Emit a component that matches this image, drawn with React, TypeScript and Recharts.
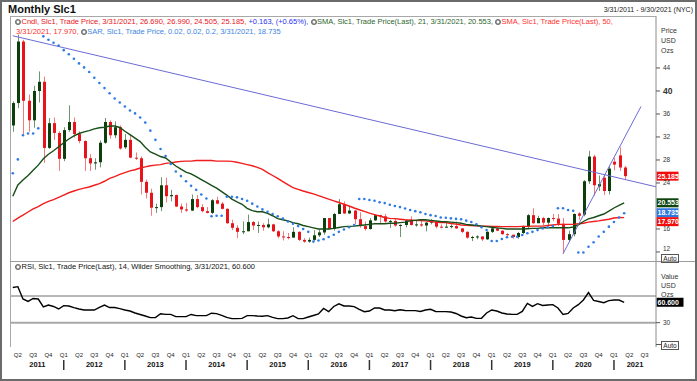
import React from 'react';
import { ComposedChart, Bar, Line, XAxis, YAxis, ReferenceLine } from 'recharts';

const FONT = 'Arial, "Liberation Sans", Helvetica, sans-serif';

// Monthly candles: index 0 = Mar 2011 ... index 120 = Mar 2021
const opens = [
  34.0, 37.9, 48.6, 38.3, 34.9, 40.0, 41.6, 30.1, 34.4, 32.7,
  28.2, 33.2, 34.6, 32.5, 31.3, 28.3, 27.4, 27.6, 31.0, 34.6, 32.3, 33.7,
  30.2, 31.5, 28.4, 28.3, 24.2, 22.3, 19.7, 19.8, 23.6, 21.7, 21.9, 19.9,
  19.4, 19.2, 21.2, 19.8, 19.1, 18.8, 21.0, 20.4, 19.5, 17.0, 16.2, 15.5,
  15.6, 17.2, 16.6, 16.7, 16.3, 16.8, 15.6, 14.7, 14.6, 14.5, 15.5, 14.1,
  13.8, 14.1, 14.9, 15.4, 17.9, 16.0, 18.6, 20.3, 18.7, 19.2, 17.7, 16.5,
  16.0, 17.5, 18.4, 18.2, 17.3, 17.4, 16.6, 16.7, 17.5, 16.7, 16.8, 16.6,
  17.1, 17.3, 16.4, 16.3, 16.4, 16.5, 16.1, 15.5, 14.5, 14.6, 14.7, 14.2,
  15.5, 16.1, 15.7, 15.1, 15.0, 14.6, 15.3, 16.4, 18.4, 17.0, 17.9, 17.1,
  17.9, 17.8, 16.9, 14.1, 15.1, 18.7, 18.5, 24.3, 28.6, 23.4, 24.9, 22.6,
  27.7, 28.8, 26.69,
];
const highs = [
  38.2, 49.8, 48.9, 39.4, 40.9, 43.4, 42.5, 35.3, 35.4, 33.0,
  33.7, 37.5, 35.4, 33.0, 31.4, 29.0, 28.3, 31.4, 35.3, 34.9, 34.7, 34.0,
  32.5, 32.4, 29.3, 28.6, 24.6, 23.0, 20.4, 25.0, 24.9, 22.8, 22.0, 20.4,
  20.5, 22.0, 21.9, 20.3, 19.8, 21.2, 21.6, 20.7, 19.6, 17.6, 16.7, 17.3,
  18.5, 17.4, 17.3, 17.0, 17.8, 16.9, 15.8, 15.6, 15.3, 16.3, 15.6, 14.4,
  14.5, 15.8, 15.9, 17.9, 17.9, 18.8, 21.2, 20.8, 20.0, 19.3, 18.9, 17.3,
  17.9, 18.5, 18.5, 18.6, 17.6, 17.9, 16.8, 17.7, 18.2, 17.4, 17.4, 17.2,
  17.7, 17.4, 16.8, 17.3, 16.8, 17.3, 16.1, 15.6, 14.8, 14.9, 14.7, 15.6,
  16.2, 16.2, 15.8, 15.3, 15.0, 15.5, 16.6, 18.6, 19.6, 18.3, 18.1, 18.0,
  18.6, 18.6, 17.9, 15.7, 18.7, 18.9, 24.5, 29.6, 28.9, 25.3, 25.4, 26.9,
  28.4, 30.2, 26.99,
];
const lows = [
  32.9, 37.0, 32.3, 32.9, 33.6, 38.0, 27.5, 29.9, 31.5, 26.1,
  27.8, 32.9, 31.9, 30.9, 26.1, 26.1, 26.3, 26.7, 30.8, 31.7, 31.8, 29.8,
  29.9, 28.3, 28.0, 22.0, 21.3, 18.3, 18.8, 19.1, 20.6, 20.8, 19.8, 18.8,
  19.0, 19.1, 19.6, 18.9, 18.7, 18.6, 20.3, 19.4, 16.9, 15.8, 14.4, 15.1,
  15.6, 15.8, 15.3, 15.7, 16.1, 15.5, 14.4, 14.0, 14.2, 14.5, 13.9, 13.6,
  13.6, 13.9, 14.6, 15.0, 15.9, 15.7, 18.6, 18.6, 18.6, 16.8, 16.2, 15.7,
  15.9, 17.4, 16.8, 17.1, 16.2, 16.4, 14.6, 16.3, 16.6, 16.4, 16.4, 15.6,
  16.8, 16.1, 16.1, 16.2, 16.1, 16.0, 15.3, 14.3, 13.9, 14.2, 13.9, 14.1,
  15.3, 15.6, 15.0, 14.7, 14.3, 14.3, 15.1, 16.1, 16.9, 17.0, 16.6, 16.6,
  17.3, 16.5, 11.7, 13.9, 14.7, 17.6, 18.2, 23.8, 21.8, 22.6, 21.9, 22.0,
  26.2, 26.1, 24.505,
];
const closes = [
  37.9, 48.6, 38.3, 34.9, 40.0, 41.6, 30.1, 34.4, 32.7, 28.2,
  33.2, 34.6, 32.5, 31.3, 28.3, 27.4, 27.6, 31.0, 34.6, 32.3, 33.7, 30.0,
  31.5, 28.4, 28.3, 24.2, 22.3, 19.7, 19.8, 23.6, 21.7, 21.9, 19.9, 19.4,
  19.2, 21.2, 19.8, 19.1, 18.8, 21.0, 20.4, 19.5, 17.0, 16.2, 15.5, 15.6,
  17.2, 16.6, 16.7, 16.3, 16.8, 15.6, 14.7, 14.6, 14.5, 15.5, 14.1, 13.8,
  14.1, 14.9, 15.4, 17.9, 16.0, 18.6, 20.3, 18.7, 19.2, 17.7, 16.5, 16.0,
  17.5, 18.4, 18.2, 17.3, 17.4, 16.6, 16.7, 17.5, 16.7, 16.8, 16.6, 17.1,
  17.3, 16.4, 16.3, 16.4, 16.5, 16.1, 15.5, 14.5, 14.6, 14.7, 14.2, 15.5,
  16.1, 15.7, 15.1, 15.0, 14.6, 15.3, 16.4, 18.4, 17.0, 17.9, 17.1, 17.9,
  17.8, 16.9, 14.1, 15.1, 18.6, 18.3, 24.3, 28.6, 23.6, 23.8, 22.6, 26.5,
  27.2, 26.69, 25.185,
];
const sma21 = [
  21.7, 23.65, 24.5, 25.3, 26.2, 27.1, 28.2, 29.0, 29.6, 30.3,
  31.0, 31.65, 32.2, 32.6, 32.9, 33.1, 33.4, 33.6, 33.7, 33.9,
  33.9, 33.65, 33.0, 32.4, 31.8, 31.2, 30.2, 29.4, 29.0, 28.6,
  28.35, 27.65, 26.95, 26.4, 25.9, 25.6, 25.1, 24.6, 24.1, 23.6,
  23.1, 22.5, 21.9, 21.2, 20.7, 20.3, 19.6, 19.2, 19.0, 19.0,
  18.7, 18.3, 17.8, 17.6, 17.4, 17.1, 16.9, 16.6, 16.4, 16.2,
  16.0, 16.0, 16.0, 16.1, 16.25, 16.4, 16.45, 16.5, 16.6, 16.7,
  16.8, 16.9, 16.9, 16.9, 17.0, 17.0, 17.1, 17.2, 17.4, 17.5,
  17.6, 17.6, 17.5, 17.4, 17.3, 17.25, 17.2, 17.1, 17.0, 16.8,
  16.7, 16.6, 16.5, 16.4, 16.3, 16.2, 16.1, 16.0, 16.0, 16.0,
  16.0, 16.05, 16.1, 16.1, 16.2, 16.2, 16.2, 16.2, 16.2, 16.2,
  16.35, 16.7, 17.3, 17.75, 18.0, 18.3, 18.6, 19.1, 19.65, 20.1,
  20.553,
];
const sma50 = [
  17.3, 17.9, 18.4, 18.95, 19.5, 19.9, 20.4, 20.8, 21.1, 21.5,
  21.9, 22.3, 22.6, 22.9, 23.1, 23.3, 23.6, 23.9, 24.3, 24.8,
  25.1, 25.5, 25.8, 26.1, 26.3, 26.6, 26.8, 27.0, 27.1, 27.2,
  27.4, 27.5, 27.65, 27.75, 27.8, 27.8, 27.9, 27.9, 27.9, 27.9,
  27.8, 27.8, 27.8, 27.75, 27.6, 27.4, 27.2, 27.0, 26.7, 26.35,
  25.8, 25.3, 24.8, 24.25, 23.7, 23.2, 22.9, 22.6, 22.35, 22.1,
  21.8, 21.5, 21.2, 20.9, 20.6, 20.3, 20.0, 19.65, 19.35, 19.05,
  18.75, 18.5, 18.25, 18.0, 17.85, 17.8, 17.7, 17.6, 17.55, 17.5,
  17.45, 17.4, 17.3, 17.2, 17.1, 17.1, 16.95, 16.85, 16.7, 16.65,
  16.6, 16.55, 16.5, 16.5, 16.45, 16.45, 16.4, 16.4, 16.4, 16.4,
  16.45, 16.45, 16.5, 16.5, 16.5, 16.6, 16.7, 16.8, 16.8, 16.8,
  16.8, 16.9, 17.0, 17.2, 17.3, 17.4, 17.55, 17.7, 17.9, 18.0,
  17.97,
];
const sar = [
  25.7, 28.1, 32.3, 32.6, 32.6, 33.5,
  49.5, 48.9, 48.4, 47.9, 47.1, 46.4, 45.6, 44.8, 44.1, 43.3, 42.3, 41.4, 40.5, 39.6,
  38.7, 38.0, 37.3, 36.6, 36.1, 35.4, 34.5, 33.1, 31.5, 29.9, 28.7, 27.3, 26.0, 25.2,
  24.3, 23.5, 22.8, 22.0, 21.3,
  18.2, 18.3, 18.3,
  21.6, 21.6, 21.5, 21.2, 20.9, 20.4, 19.9, 19.4, 19.0, 18.6, 18.2, 17.8, 17.3, 16.9, 16.5, 16.0, 15.5,
  13.8, 14.0, 14.2, 14.6, 15.0, 15.5, 15.9, 16.3, 16.7,
  21.2, 21.2, 21.05, 20.9, 20.65, 20.5, 20.2, 20.0, 19.8, 19.55, 19.3, 19.1, 18.9, 18.6, 18.4, 18.25,
  18.0, 17.95, 17.85, 17.75, 17.7, 17.45, 17.2, 16.8, 16.3, 15.8,
  13.9, 13.9, 14.25, 14.55, 14.65, 14.65, 14.95, 15.25, 15.5, 15.8, 16.1, 16.3, 16.5,
  19.6, 19.6, 19.3, 19.15,
  11.9, 11.9, 12.9, 13.7, 14.7, 15.5, 16.4, 17.2, 18.0, 18.735,
];
const rsi = [
  82.7, 84, 65.5, 61.8, 66.3, 65.5, 53.5, 56.5, 54.3, 50.5,
  55.5, 55, 52.5, 50.5, 49, 49, 49, 53, 56.5, 52.7,
  52.7, 51, 49, 47.5, 44.5, 42.3, 40, 37.5, 37.5, 43.3,
  42.5, 42.5, 39, 39, 39, 42.3, 40.5, 40.5, 40.5, 44.2,
  43.6, 41, 38, 36, 36, 36.5, 40.5, 40.5, 40, 39.7,
  40.5, 38, 36, 36, 37, 40.5, 36, 36, 38.5, 40.8,
  43, 51.3, 46.5, 54.3, 58.3, 55, 55, 54, 49.8, 46.5,
  47.5, 52, 52, 49, 49, 47.8, 49.3, 48.3, 48, 48,
  46.8, 49, 50, 46.8, 46.5, 46.5, 46, 43.8, 40, 37.5,
  38.5, 36.5, 36.5, 44.5, 49, 47.5, 44.5, 43, 42.5, 42.5,
  46.8, 58.8, 54.3, 58.5, 55.8, 56.5, 57, 52, 42.3, 43.8,
  52, 57, 64, 75.2, 63.3, 61.8, 60, 63, 64, 64,
  60.6,
];

// Drawn trend lines (month index, price)
const trendDown = [{ x: 0, y: 49.6 }, { x: 126.25, y: 23.34 }];
const trendUp = [{ x: 108, y: 11.7 }, { x: 123.3, y: 37.3 }];

// Axis ticks
const quarterTicks = [1, 4, 7, 10, 13, 16, 19, 22, 25, 28, 31, 34, 37, 40, 43, 46, 49, 52, 55, 58, 61, 64, 67, 70, 73, 76, 79, 82, 85, 88, 91, 94, 97, 100, 103, 106, 109, 112, 115, 118, 121, 124];
const quarterCycle = ['Q2', 'Q3', 'Q4', 'Q1'];
const yearLabels = ['2011', '2012', '2013', '2014', '2015', '2016', '2017', '2018', '2019', '2020', '2021'];
const yearCenters = [4.825, 16, 28, 40, 52, 64, 76, 88, 100, 112, 122.125];
const priceTicks = [12, 16, 24, 28, 32, 36, 40, 44];
const rsiTicks = [30];
const X_DOMAIN: [number, number] = [-0.35, 126.25];

const rows = opens.map((o, i) => ({
  i,
  open: o,
  high: highs[i],
  low: lows[i],
  close: closes[i],
  range: [lows[i], highs[i]],
  sma21: sma21[i],
  sma50: sma50[i],
  sar: sar[i],
  rsi: rsi[i],
}));

const last = rows.length - 1;

const Candle = (props: any) => {
  let { x, y, width, height, payload } = props;
  if (x == null || y == null || !payload) return null;
  if (height < 0) { y = y + height; height = -height; }
  const { open, high, low, close } = payload;
  const k = height / (high - low);
  const yOf = (v: number) => y + (high - v) * k;
  const c = Math.round(x + width / 2);
  const up = close >= open;
  const top = yOf(Math.max(open, close));
  const bot = yOf(Math.min(open, close));
  return (
    <g>
      <line x1={c + 0.5} x2={c + 0.5} y1={y} y2={y + height} stroke={up ? '#6f946f' : '#f27b7b'} strokeWidth={1} />
      <rect x={c - 1} y={top} width={3} height={Math.max(1, bot - top)} fill={up ? '#0c3f0c' : '#e8141b'} />
    </g>
  );
};

const SarDot = (p: any) => {
  if (p.cx == null || p.cy == null) return <g key={p.key} />;
  return <circle key={p.key} cx={p.cx} cy={p.cy} r={1.3} fill="#2f7be6" />;
};

const PriceTick = (p: any) => {
  const v = p.payload.value;
  const bold = v === 40;
  return (
    <text x={p.x} y={p.y + (v === 12 ? -3 : 0)} dy="0.35em" textAnchor="start" fontFamily={FONT}
      fontSize={bold ? 8.5 : 6.5} fontWeight={bold ? 'bold' : 'normal'} fill="#333">{v}</text>
  );
};

const RsiTick = (p: any) => (
  <text x={p.x} y={p.y} dy="0.35em" textAnchor="start" fontFamily={FONT} fontSize={6.5} fill="#333">{p.payload.value}</text>
);

const QuarterTick = (p: any) => {
  const idx = quarterTicks.indexOf(p.payload.value);
  const label = quarterCycle[idx % 4];
  return (
    <g>
      <text x={p.x} y={p.y + 8} dy="0.35em" textAnchor="middle" fontFamily={FONT} fontSize={6} fill="#222">{label}</text>
      {label === 'Q1' ? <line x1={p.x} x2={p.x} y1={p.y + 13} y2={p.y + 23} stroke="#333" strokeWidth={1.5} /> : null}
    </g>
  );
};

const YearTick = (p: any) => {
  const idx = yearCenters.indexOf(p.payload.value);
  return (
    <text x={p.x} y={p.y + 5.5} dy="0.35em" textAnchor="middle" fontFamily={FONT} fontSize={7.5} fontWeight="bold" fill="#111">{yearLabels[idx]}</text>
  );
};

const badge = (text: string, bg: string, dy: number, w: number) => (p: any) => {
  const vb = p.viewBox || {};
  const x = (vb.x || 0) + (vb.width || 0) + 0.5;
  const cy = (vb.y || 0) + dy;
  return (
    <g>
      <rect x={x} y={cy - 4.5} width={w} height={9} fill={bg} />
      <text x={x + 1} y={cy} dy="0.35em" fontFamily={FONT} fontSize={7} fontWeight="bold" fill="#fff">{text}</text>
    </g>
  );
};

const Icon = () => (
  <svg width="6" height="6" style={{ verticalAlign: '-0.5px', marginRight: 0.5 }}>
    <circle cx="3" cy="3" r="2.6" fill="#9a9a9a" stroke="#555" strokeWidth="0.7" />
    <circle cx="3" cy="3" r="1.2" fill="#fff" />
  </svg>
);

const abs = (s: React.CSSProperties): React.CSSProperties => ({ position: 'absolute', ...s });

export default function App() {
  const legendStyle: React.CSSProperties = { fontSize: 7.5, lineHeight: '10px', whiteSpace: 'nowrap', fontFamily: FONT };
  return (
    <div style={{ position: 'absolute', left: 0, top: 0, width: 697, height: 381, background: '#fff', overflow: 'hidden', fontFamily: FONT }}>
      {/* main price panel */}
      <div style={abs({ left: 0, top: 0 })}>
        <ComposedChart width={697} height={262} data={rows} margin={{ top: 16, right: 0, bottom: 1, left: 11 }}>
          <XAxis dataKey="i" type="number" domain={X_DOMAIN} allowDataOverflow hide />
          <YAxis orientation="right" width={41} domain={[10.43, 53.04]} allowDataOverflow ticks={priceTicks} interval={0}
            tickSize={4} tickMargin={3} tick={<PriceTick />} axisLine={{ stroke: '#8a8a8a' }} tickLine={{ stroke: '#555' }} />
          <Bar dataKey="range" barSize={4} shape={(p: any) => <Candle {...p} />} isAnimationActive={false} />
          <Line type="linear" dataKey="sma50" stroke="#f21c1c" strokeWidth={1.4} dot={false} isAnimationActive={false} />
          <Line type="linear" dataKey="sma21" stroke="#174d17" strokeWidth={1.4} dot={false} isAnimationActive={false} />
          <Line type="linear" dataKey="sar" stroke="none" dot={SarDot} activeDot={false} isAnimationActive={false} />
          <ReferenceLine segment={trendDown} stroke="#6b6bd4" strokeWidth={1} ifOverflow="visible" />
          <ReferenceLine segment={trendUp} stroke="#6b6bd4" strokeWidth={1} ifOverflow="visible" />
          <ReferenceLine y={closes[last]} stroke="none" label={{ content: badge(closes[last].toFixed(3), '#f20d0d', 0, 22) }} />
          <ReferenceLine y={sma21[last]} stroke="none" label={{ content: badge(sma21[last].toFixed(3), '#0c440c', 0, 22) }} />
          <ReferenceLine y={sar[last]} stroke="none" label={{ content: badge(sar[last].toFixed(3), '#2f78e0', -0.5, 22) }} />
          <ReferenceLine y={sma50[last]} stroke="none" label={{ content: badge(sma50[last].toFixed(3), '#f20d0d', 4, 22) }} />
        </ComposedChart>
      </div>

      {/* RSI panel */}
      <div style={abs({ left: 0, top: 261 })}>
        <ComposedChart width={697} height={117} data={rows} margin={{ top: 0, right: 0, bottom: 5, left: 11 }}>
          <XAxis xAxisId="q" dataKey="i" type="number" domain={X_DOMAIN} allowDataOverflow ticks={quarterTicks} interval={0}
            tickSize={0} tickMargin={0} tickLine={false} axisLine={false} height={12} tick={<QuarterTick />} />
          <XAxis xAxisId="yr" dataKey="i" type="number" domain={X_DOMAIN} allowDataOverflow ticks={yearCenters} interval={0}
            tickSize={0} tickMargin={0} tickLine={false} axisLine={false} height={14} tick={<YearTick />} />
          <YAxis orientation="right" width={41} domain={[-6.5, 122.5]} allowDataOverflow ticks={rsiTicks} interval={0}
            tickSize={4} tickMargin={3} tick={<RsiTick />} axisLine={{ stroke: '#8a8a8a' }} tickLine={{ stroke: '#555' }} />
          <ReferenceLine xAxisId="q" y={70} stroke="#707070" strokeWidth={1} />
          <ReferenceLine xAxisId="q" y={30} stroke="#a8a8a8" strokeWidth={2} />
          <Line xAxisId="q" type="linear" dataKey="rsi" stroke="#000" strokeWidth={1.4} dot={false} isAnimationActive={false} />
          <Line xAxisId="yr" type="linear" dataKey="rsi" stroke="none" dot={false} activeDot={false} isAnimationActive={false} />
          <ReferenceLine xAxisId="q" y={rsi[last]} stroke="none" label={{ content: badge(rsi[last].toFixed(3), '#000', 0, 27) }} />
        </ComposedChart>
      </div>

      {/* frame lines */}
      <div style={abs({ left: 10, top: 16, width: 646, height: 1, background: '#a8a8a8' })} />
      <div style={abs({ left: 10, top: 16, width: 1, height: 331, background: '#a8a8a8' })} />
      <div style={abs({ left: 10, top: 261, width: 687, height: 1, background: '#9c9c9c' })} />
      <div style={abs({ left: 0, top: 0, width: 697, height: 381, border: '2px solid #6b6b6b', boxSizing: 'border-box' })} />

      {/* title + range */}
      <div style={abs({ left: 8, top: 3, fontSize: 11, lineHeight: '12px', fontWeight: 'bold', color: '#111', whiteSpace: 'nowrap' })}>Monthly Slc1</div>
      <div style={abs({ right: 4, top: 5, fontSize: 7, lineHeight: '10px', color: '#222', whiteSpace: 'nowrap' })}>3/31/2011 - 9/30/2021 (NYC)</div>

      {/* main legend */}
      <div style={abs({ left: 15, top: 17, ...legendStyle })}>
        <Icon />
        <span style={{ color: '#e8141b' }}>Cndl, Slc1, Trade Price, 3/31/2021, {opens[last].toFixed(3)}, {highs[last].toFixed(3)}, {lows[last].toFixed(3)}, {closes[last].toFixed(3)}, </span>
        <span style={{ color: '#2b33ee' }}>+0.163, (+0.65%), </span>
        <Icon />
        <span style={{ color: '#2d662d' }}>SMA, Slc1, Trade Price(Last),  21, 3/31/2021, {sma21[last].toFixed(3)}, </span>
        <Icon />
        <span style={{ color: '#ff3030' }}>SMA, Slc1, Trade Price(Last),  50,</span>
      </div>
      <div style={abs({ left: 16, top: 27, ...legendStyle })}>
        <span style={{ color: '#ff3030' }}>3/31/2021, {sma50[last].toFixed(3)}, </span>
        <Icon />
        <span style={{ color: '#3d85e0' }}>SAR, Slc1, Trade Price,  0.02, 0.02, 0.2, 3/31/2021, {sar[last].toFixed(3)}</span>
      </div>

      {/* RSI legend */}
      <div style={abs({ left: 15, top: 262, ...legendStyle })}>
        <Icon />
        <span style={{ color: '#111' }}>RSI, Slc1, Trade Price(Last), 14, Wilder Smoothing, 3/31/2021, {rsi[last].toFixed(3)}</span>
      </div>

      {/* axis titles */}
      <div style={abs({ left: 661, top: 26, fontSize: 7, lineHeight: '10px', color: '#333' })}>Price<br />USD<br />Ozs</div>
      <div style={abs({ left: 661, top: 254, width: 16, height: 7, border: '1px solid #555', fontSize: 6.5, lineHeight: '7px', textAlign: 'center', color: '#222' })}>Auto</div>
      <div style={abs({ left: 661, top: 271.5, fontSize: 7, lineHeight: '9px', color: '#333' })}>Value<br />USD<br />Ozs</div>
      <div style={abs({ left: 656, top: 344, width: 5, height: 1, background: '#555' })} />
      <div style={abs({ left: 661, top: 340.5, width: 16, height: 7, border: '1px solid #555', fontSize: 6.5, lineHeight: '7px', textAlign: 'center', color: '#222' })}>Auto</div>
    </div>
  );
}
